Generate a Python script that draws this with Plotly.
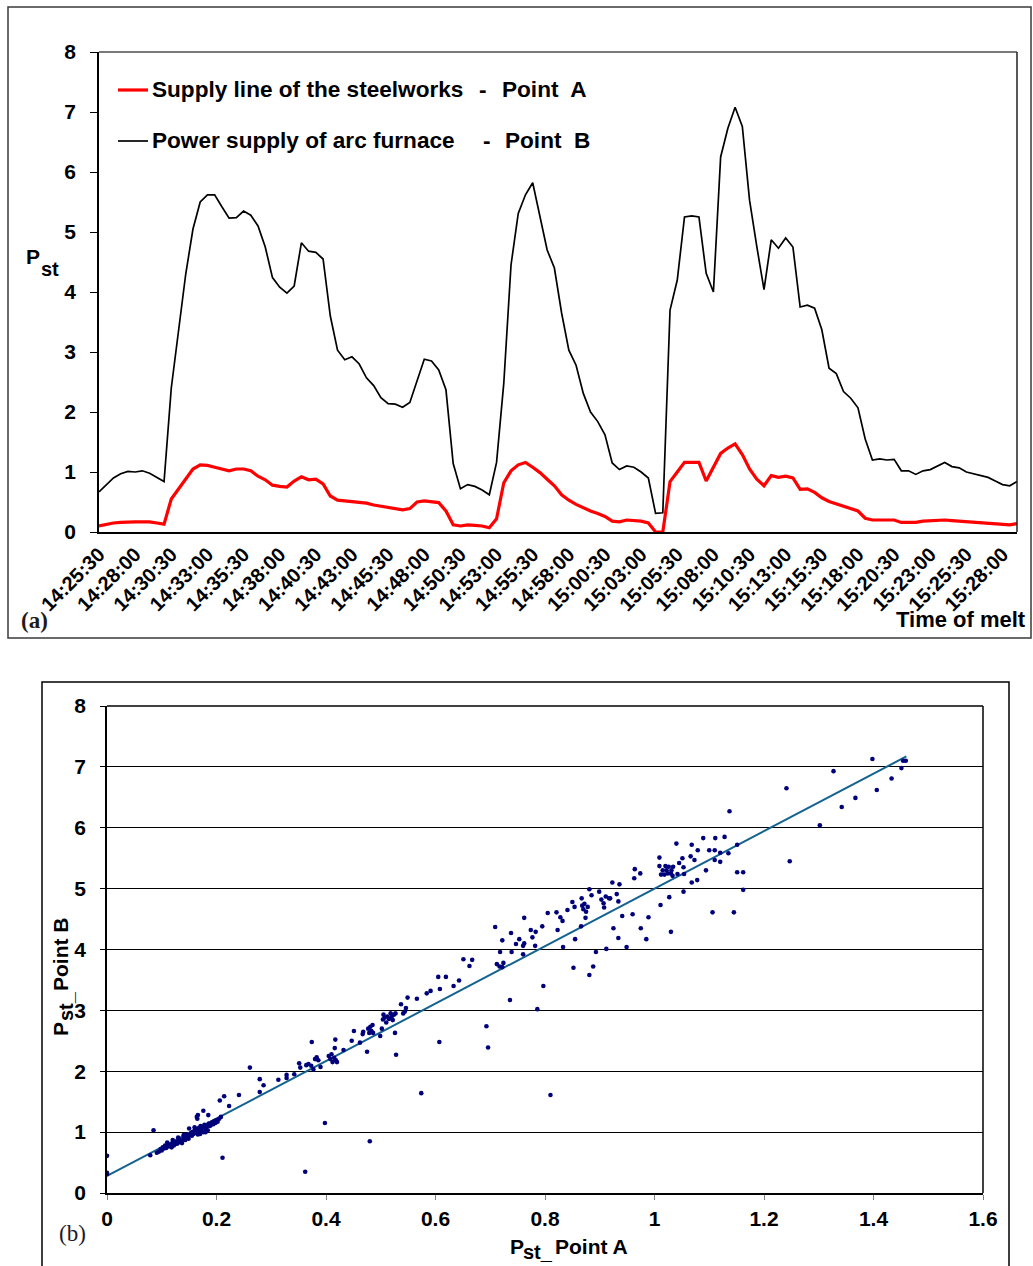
import plotly.graph_objects as go

W, H = 1033, 1266

# Time of melt, one sample every 30 s from 14:25:30
start_seconds = 14 * 3600 + 25 * 60 + 30
n_samples = 128
times = []
for k in range(n_samples):
    t = start_seconds + 30 * k
    times.append(f"{t // 3600:02d}:{t % 3600 // 60:02d}:{t % 60:02d}")

# Pst at the supply line of the steelworks (point A)
pst_point_a = [
    0.10, 0.13, 0.15, 0.16, 0.17, 0.17, 0.17, 0.17, 0.15, 0.13,
    0.55, 0.72, 0.88, 1.05, 1.12, 1.11, 1.08, 1.05, 1.02, 1.05,
    1.05, 1.02, 0.93, 0.87, 0.78, 0.76, 0.75, 0.85, 0.92, 0.87,
    0.88, 0.80, 0.60, 0.53, 0.52, 0.51, 0.49, 0.48, 0.45, 0.43,
    0.41, 0.39, 0.37, 0.39, 0.50, 0.52, 0.51, 0.49, 0.35, 0.12,
    0.10, 0.12, 0.11, 0.10, 0.07, 0.22, 0.82, 1.02, 1.12, 1.16,
    1.08, 0.99, 0.88, 0.77, 0.62, 0.53, 0.46, 0.40, 0.35, 0.31,
    0.26, 0.18, 0.17, 0.20, 0.19, 0.18, 0.15, 0.00, 0.00, 0.84,
    1.00, 1.16, 1.16, 1.16, 0.85, 1.09, 1.31, 1.40, 1.47, 1.29,
    1.05, 0.88, 0.77, 0.94, 0.91, 0.93, 0.90, 0.71, 0.72, 0.66,
    0.57, 0.51, 0.47, 0.42, 0.38, 0.35, 0.23, 0.20, 0.20, 0.20,
    0.20, 0.16, 0.16, 0.16, 0.18, 0.19, 0.20, 0.20, 0.19, 0.18,
    0.17, 0.16, 0.15, 0.14, 0.13, 0.12, 0.12, 0.14,
]

# Pst at the power supply of the arc furnace (point B)
pst_point_b = [
    0.67, 0.78, 0.90, 0.97, 1.01, 1.00, 1.02, 0.98, 0.91, 0.84,
    2.40, 3.40, 4.30, 5.05, 5.50, 5.62, 5.62, 5.42, 5.23, 5.24,
    5.35, 5.28, 5.10, 4.75, 4.24, 4.08, 3.98, 4.10, 4.82, 4.68,
    4.66, 4.55, 3.60, 3.03, 2.87, 2.92, 2.80, 2.57, 2.44, 2.24,
    2.14, 2.13, 2.08, 2.16, 2.54, 2.88, 2.85, 2.70, 2.37, 1.14,
    0.72, 0.79, 0.76, 0.70, 0.62, 1.16, 2.48, 4.45, 5.31, 5.62,
    5.82, 5.28, 4.70, 4.40, 3.65, 3.03, 2.78, 2.31, 2.00, 1.84,
    1.62, 1.15, 1.04, 1.10, 1.08, 1.00, 0.90, 0.31, 0.32, 3.70,
    4.20, 5.25, 5.27, 5.25, 4.31, 4.00, 6.25, 6.73, 7.08, 6.76,
    5.53, 4.76, 4.04, 4.87, 4.73, 4.90, 4.75, 3.75, 3.78, 3.73,
    3.37, 2.73, 2.64, 2.34, 2.23, 2.07, 1.55, 1.20, 1.22, 1.20,
    1.21, 1.02, 1.02, 0.96, 1.02, 1.04, 1.10, 1.16, 1.09, 1.07,
    1.00, 0.97, 0.95, 0.91, 0.85, 0.79, 0.77, 0.84,
]

# Paired Pst values, point A (x) against point B (y)
scatter_pst_a = [
    0.000, 0.000, 0.000,
    0.079, 0.085, 0.091, 0.095, 0.098, 0.100, 0.102, 0.104, 0.106, 0.108, 0.110, 0.110,
    0.112, 0.114, 0.116, 0.118, 0.120, 0.120, 0.122, 0.124, 0.126, 0.128, 0.130, 0.130,
    0.131, 0.133, 0.135, 0.137, 0.139, 0.140, 0.141, 0.143, 0.145, 0.145, 0.147, 0.149,
    0.150, 0.151, 0.153, 0.155, 0.155, 0.156, 0.158, 0.160, 0.160, 0.161, 0.163, 0.164,
    0.165, 0.165, 0.166, 0.166, 0.168, 0.170, 0.170, 0.171, 0.173, 0.175, 0.176, 0.176,
    0.178, 0.180, 0.180, 0.182, 0.184, 0.185, 0.186, 0.188, 0.190, 0.192, 0.194, 0.196,
    0.198, 0.200, 0.202, 0.205, 0.206, 0.208, 0.211, 0.214,
    0.223, 0.241, 0.261, 0.279, 0.279, 0.286, 0.313, 0.328, 0.328, 0.342, 0.351, 0.353,
    0.362, 0.364, 0.368, 0.373, 0.374, 0.377, 0.380, 0.383, 0.386, 0.390, 0.398, 0.405,
    0.408, 0.410, 0.412, 0.415, 0.418, 0.416, 0.417, 0.420, 0.432, 0.447, 0.451, 0.462,
    0.467, 0.468, 0.475, 0.477, 0.479, 0.480, 0.481, 0.483, 0.485, 0.486, 0.499, 0.502,
    0.504, 0.505, 0.507, 0.510, 0.512, 0.515, 0.518, 0.520, 0.522, 0.524, 0.527, 0.526,
    0.528, 0.537, 0.541, 0.544, 0.546, 0.549, 0.566, 0.574, 0.584, 0.591, 0.605, 0.607,
    0.608, 0.619, 0.633, 0.643, 0.651, 0.662, 0.667, 0.693, 0.696,
    0.709, 0.712, 0.717, 0.718, 0.722, 0.722, 0.724, 0.736, 0.738, 0.739, 0.747, 0.753,
    0.760, 0.760, 0.762, 0.762, 0.774, 0.777, 0.782, 0.783, 0.786, 0.795, 0.797, 0.805,
    0.810, 0.821, 0.823, 0.828, 0.832, 0.833, 0.841, 0.850, 0.852, 0.854, 0.855, 0.866,
    0.867, 0.868, 0.870, 0.872, 0.874, 0.875, 0.878, 0.881, 0.881, 0.885, 0.888, 0.893,
    0.899, 0.903, 0.907, 0.908, 0.911, 0.912, 0.917, 0.919, 0.923, 0.925, 0.931, 0.934,
    0.934, 0.936, 0.941, 0.949, 0.960, 0.963, 0.964, 0.974, 0.975, 0.985, 0.989, 1.009,
    1.009, 1.011, 1.012, 1.015, 1.018, 1.020, 1.022, 1.024, 1.026, 1.027, 1.030, 1.030,
    1.031, 1.033, 1.034, 1.040, 1.042, 1.045, 1.051, 1.053, 1.053, 1.054, 1.066, 1.068,
    1.068, 1.073, 1.078, 1.079, 1.089, 1.094, 1.100, 1.106, 1.110, 1.110, 1.111, 1.120,
    1.120, 1.128, 1.135, 1.137, 1.145, 1.151, 1.151, 1.162, 1.162, 1.241, 1.247, 1.302,
    1.327, 1.342, 1.367, 1.398, 1.406, 1.433, 1.451, 1.454, 1.459,
]
scatter_pst_b = [
    0.61, 0.33, 0.31,
    0.62, 1.03, 0.66, 0.68, 0.72, 0.70, 0.75, 0.73, 0.78, 0.74, 0.76, 0.83,
    0.80, 0.77, 0.79, 0.75, 0.82, 0.87, 0.78, 0.80, 0.84, 0.81, 0.86, 0.91,
    0.83, 0.88, 0.85, 0.82, 0.88, 0.95, 0.91, 0.87, 0.90, 0.96, 0.93, 0.89,
    1.06, 0.95, 0.98, 0.94, 0.99, 1.00, 0.97, 1.03, 1.08, 0.99, 1.05, 1.25,
    1.01, 1.22, 0.96, 1.28, 1.07, 1.02, 0.97, 1.10, 1.04, 1.08, 1.00, 1.35,
    1.12, 1.06, 1.00, 1.09, 1.03, 1.28, 1.14, 1.10, 1.12, 1.16, 1.13, 1.18,
    1.15, 1.20, 1.17, 1.22, 1.52, 1.25, 0.58, 1.59,
    1.43, 1.61, 2.06, 1.87, 1.66, 1.77, 1.86, 1.94, 1.89, 1.95, 2.13, 2.06,
    0.35, 2.10, 2.12, 2.09, 2.48, 2.03, 2.20, 2.23, 2.18, 2.07, 1.15, 2.25,
    2.20, 2.28, 2.15, 2.22, 2.18, 2.38, 2.52, 2.15, 2.35, 2.50, 2.66, 2.47,
    2.61, 2.65, 2.32, 2.70, 2.63, 0.85, 2.73, 2.66, 2.76, 2.63, 2.58, 2.70,
    2.85, 2.93, 2.88, 2.80, 2.90, 2.86, 2.95, 2.90, 2.84, 2.93, 2.95, 2.63,
    2.27, 3.10, 2.95, 2.98, 3.04, 3.21, 3.19, 1.64, 3.28, 3.32, 3.55, 2.48,
    3.35, 3.55, 3.40, 3.49, 3.84, 3.73, 3.83, 2.74, 2.39,
    4.37, 3.76, 3.72, 3.96, 3.71, 4.15, 3.78, 3.17, 4.27, 3.96, 4.09, 4.17,
    3.92, 4.06, 4.52, 4.10, 4.32, 4.20, 4.06, 4.29, 3.02, 4.38, 3.40, 4.60,
    1.61, 4.61, 4.32, 4.53, 4.47, 4.04, 4.65, 4.78, 3.70, 4.70, 4.17, 4.38,
    4.84, 4.72, 4.66, 4.75, 4.52, 4.62, 4.70, 4.99, 3.58, 4.89, 3.72, 3.96,
    4.95, 4.82, 4.76, 4.69, 4.87, 4.01, 4.84, 4.84, 5.10, 4.35, 4.91, 4.79,
    4.19, 5.07, 4.55, 4.04, 4.58, 5.17, 5.32, 5.25, 4.35, 4.17, 4.53, 5.37,
    5.51, 4.73, 5.23, 5.30, 5.23, 5.37, 5.30, 5.25, 5.36, 4.86, 5.25, 4.29,
    5.30, 5.21, 5.36, 5.74, 5.24, 5.42, 5.50, 5.35, 4.95, 5.24, 5.53, 5.72,
    5.10, 5.47, 5.14, 5.63, 5.83, 5.30, 5.63, 4.61, 5.63, 5.47, 5.83, 5.59,
    5.44, 5.85, 5.58, 6.27, 4.61, 5.72, 5.27, 5.27, 4.98, 6.65, 5.45, 6.04,
    6.93, 6.34, 6.49, 7.13, 6.62, 6.81, 6.98, 7.10, 7.10,
]

# Linear trend of Pst_B on Pst_A
trend_intercept = 0.28
trend_slope = 4.72
trend_x = [0.0, 1.46]
trend_y = [trend_intercept + trend_slope * v for v in trend_x]


def px(x):
    return x / W


def py(y):
    return 1 - y / H


SANS = "Liberation Sans, Arial, sans-serif"
SERIF = "Liberation Serif, Times New Roman, serif"


def bold(size, color="black"):
    return dict(family=SANS, size=size, color=color, weight="bold")


fig = go.Figure()

# (a) time course of Pst
fig.add_trace(go.Scatter(
    x=times, y=pst_point_b, mode="lines", xaxis="x", yaxis="y",
    line=dict(color="#000000", width=1.7), showlegend=False,
))
fig.add_trace(go.Scatter(
    x=times, y=pst_point_a, mode="lines", xaxis="x", yaxis="y",
    line=dict(color="#ff0000", width=3.2), showlegend=False,
))

# (b) Pst_B against Pst_A with its trend line
fig.add_trace(go.Scatter(
    x=trend_x, y=trend_y, mode="lines", xaxis="x2", yaxis="y2",
    line=dict(color="#14628f", width=2), showlegend=False,
))
fig.add_trace(go.Scatter(
    x=scatter_pst_a, y=scatter_pst_b, mode="markers", xaxis="x2", yaxis="y2",
    marker=dict(color="#00007a", size=4.6, line=dict(width=0)), showlegend=False,
))

tick_times = times[::5]

fig.update_layout(
    template="none",
    width=W, height=H,
    margin=dict(l=0, r=0, t=0, b=0, pad=0),
    paper_bgcolor="white", plot_bgcolor="white",
    showlegend=False,
    font=dict(family=SANS, color="black"),
    xaxis=dict(
        domain=[px(99), px(1017)], anchor="y", automargin=False,
        type="category", range=[0, n_samples - 1],
        tickmode="array", tickvals=tick_times, ticktext=tick_times,
        tickangle=-45, tickfont=bold(20), ticks="",
        ticklabelstandoff=1,
        showline=True, linecolor="black", linewidth=1.5,
        showgrid=False, zeroline=False, fixedrange=True,
    ),
    yaxis=dict(
        domain=[py(532), py(52)], anchor="x", automargin=False,
        range=[0, 8], dtick=1, tickfont=bold(21),
        ticks="outside", ticklen=7, tickcolor="black", tickwidth=1,
        ticklabelstandoff=10,
        showline=True, linecolor="black", linewidth=1.5,
        showgrid=False, zeroline=False, fixedrange=True,
    ),
    xaxis2=dict(
        domain=[px(107), px(983)], anchor="y2", automargin=False,
        range=[0, 1.6], dtick=0.2, tickfont=bold(21),
        ticks="outside", ticklen=5, tickcolor="#808080", tickwidth=1,
        ticklabelstandoff=1,
        showline=True, linecolor="black", linewidth=1.5,
        showgrid=False, zeroline=False, fixedrange=True,
    ),
    yaxis2=dict(
        domain=[py(1193), py(706)], anchor="x2", automargin=False,
        range=[0, 8], dtick=1, tickfont=bold(21),
        ticks="outside", ticklen=5, tickcolor="black", tickwidth=1,
        ticklabelstandoff=10,
        showline=True, linecolor="black", linewidth=1.5,
        showgrid=True, gridcolor="black", gridwidth=1,
        zeroline=False, fixedrange=True,
    ),
)

shapes = []


def frame_line(x0, y0, x1, y1, color, width):
    shapes.append(dict(
        type="line", xref="paper", yref="paper",
        x0=px(x0), y0=py(y0), x1=px(x1), y1=py(y1),
        line=dict(color=color, width=width),
    ))


# panel frames
shapes.append(dict(type="rect", xref="paper", yref="paper",
                   x0=px(8), y0=py(638), x1=px(1031), y1=py(7),
                   line=dict(color="#3a3a3a", width=1.5)))
shapes.append(dict(type="rect", xref="paper", yref="paper",
                   x0=px(42), y0=py(1272), x1=px(1009), y1=py(682),
                   line=dict(color="black", width=1.5)))
# plot-area borders
frame_line(99, 52, 1017, 52, "#7a7a7a", 2)
frame_line(1017, 52, 1017, 532, "#222222", 1.5)
frame_line(107, 706, 983, 706, "black", 1.5)
frame_line(983, 706, 983, 1193, "black", 1.5)
# legend keys
frame_line(118, 90, 148, 90, "#ff0000", 3.2)
frame_line(118, 141, 148, 141, "#000000", 1.7)

annotations = []


def label(text, x, y, size, xanchor="left", yanchor="middle", font=None, angle=0):
    annotations.append(dict(
        text=text, xref="paper", yref="paper", x=px(x), y=py(y),
        xanchor=xanchor, yanchor=yanchor, showarrow=False,
        font=font or bold(size), textangle=angle,
    ))


label("Supply line of the steelworks", 150, 90, 22.6)
label("-", 483, 90, 22.6, xanchor="center")
label("Point  A", 500, 90, 22.6)
label("Power supply of arc furnace", 150, 141, 22.6)
label("-", 487, 141, 22.6, xanchor="center")
label("Point  B", 503, 141, 22.6)

# Pst axis label of panel (a), subscript set lower
label("P", 24, 257, 21)
label("st", 39, 269, 20)
label("Time of melt", 1028, 619, 22, xanchor="right")
label("(a)", 19, 620, 22, font=dict(family=SERIF, size=23, color="#1e1a16", weight="bold"))

# axis titles of panel (b), built from main text and lowered subscript
label("P", 508, 1246, 21)
label("st_", 521, 1252, 20)
label("Point A", 553, 1246, 21)
label("P", 60, 1029, 21, xanchor="center", angle=-90)
label("st_", 66, 1006, 20, xanchor="center", angle=-90)
label("Point B", 60, 954, 21, xanchor="center", angle=-90)
label("(b)", 57, 1233, 22, font=dict(family=SERIF, size=23, color="#1e1a2e"))

fig.update_layout(shapes=shapes, annotations=annotations)

fig.write_html("out.html")
